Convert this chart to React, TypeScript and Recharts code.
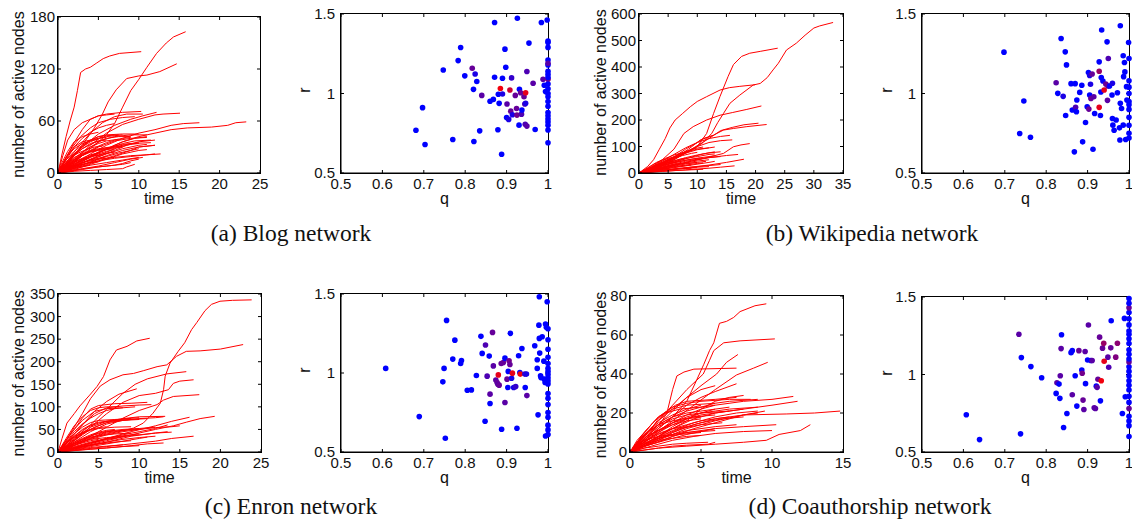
import React from 'react';
import { LineChart, Line, XAxis, YAxis, ScatterChart, Scatter } from 'recharts';

// ---------- Data ----------
// each curve: flat list [t0, n0, t1, n1, ...]
const blogCurves: number[][] = [
  [0,0, 0.5,22, 1,42, 1.5,60, 2,76, 2.4,95, 2.8,116, 3.4,120, 4,122, 4.8,127, 5.6,132, 6.4,135, 7.6,138, 10.3,140],
  [0,0, 2,12, 4,28, 6,44, 7,57, 8,76, 9,95, 10,108, 11,122, 12.2,138, 13.4,150, 14.3,157, 15.8,163],
  [0,0, 1.5,14, 3,32, 4.5,52, 5.5,68, 6.2,82, 7.2,96, 8.5,109, 10,112, 11,113, 12.6,117, 14.7,126],
  [0,0, 1,18, 2,35, 3,50, 4,62, 5,66, 6,68, 8,70, 10.3,71],
  [0,0, 1,12, 2.5,30, 4,46, 5.5,58, 7,65, 8.5,68, 10.5,68],
  [0,0, 1.5,15, 3,30, 5,45, 7,55, 9,62, 10.5,66, 12.2,70],
  [0,0, 2,15, 4,32, 6,46, 8,56, 10,62, 12,67, 13,68, 15.1,69],
  [0,0, 2,10, 4,22, 6,32, 8,40, 10,46, 12,50, 14,55, 15.5,57, 17.5,58],
  [0,0, 2,8, 4,18, 6,28, 8,36, 10,42, 12,46, 14,50, 16,52, 19,53, 21,55, 22,58, 23.3,59],
  [0,0, 0.8,15, 1.8,30, 2.8,42, 4,52, 5,58, 6.5,62, 8,64, 9.5,65],
  [0,0, 1,10, 2,22, 3.5,35, 5,42, 6,44, 8,45, 10,45],
  [0,0, 1,8, 2.5,18, 4,30, 5.5,38, 7,42, 9,44, 11,44],
  [0,0, 1.5,10, 3,20, 5,30, 7,37, 9,40, 11,41],
  [0,0, 1,6, 3,15, 5,24, 7,30, 9,34, 11.5,35],
  [0,0, 2,8, 4,15, 6,22, 8,28, 10,32, 11,33],
  [0,0, 1,5, 3,12, 5,16, 7,18, 9,20, 11,21, 12.7,22],
  [0,0, 1,4, 3,10, 5,14, 7,17, 9,19, 11,21, 12,22],
  [0,0, 2,5, 4,9, 6,12, 8,15, 10,18],
  [0,0, 2,3, 4,6, 6,8, 8,10, 9,12],
  [0,0, 2,2, 4,3, 6,4, 8,5, 8.5,7, 9.5,10],
  [0,0, 0.5,8, 1,18, 2,30, 3,36, 4,38, 5,40, 6,41],
  [0,0, 0.5,12, 1.2,25, 2,36, 3,42, 4,45, 5,47],
  [0,0, 1,15, 2,25, 3,32, 4,38, 5,42, 6,43, 7.5,44],
  [0,0, 1.5,18, 3,28, 4.5,35, 6,40, 7.5,42, 9,42],
  [0,0, 1,5, 2,10, 3,14, 4,18, 5,22, 6,25, 7,27],
  [0,0, 1,3, 2,8, 3,12, 4,15, 5,17, 6,19],
  [0,0, 0.8,10, 1.6,18, 2.5,23, 3.5,27, 4.5,30, 5.5,31],
  [0,0, 2,10, 4,20, 6,28, 8,34, 9.5,37, 11.5,38],
  [0,0, 1,10, 2,18, 3,22, 4,26, 5,28, 6.5,30, 8,33, 10,35],
  [0,0, 3,8, 5,14, 7,20, 9,26, 10,30, 12,32],
  [0,0, 1,4, 2,8, 3,10, 4,12, 5,13],
  [0,0, 0.5,3, 1.5,6, 3,8, 4,9],
  [0,0, 1,7, 2,14, 3,20, 4,24, 5,26, 6,27, 7,28],
  [0,0, 2,4, 4,10, 6,16, 8,22, 10,26, 11,27],
  [0,0, 1.5,5, 3,12, 5,19, 7,26, 8.5,32, 10,36, 12,38],
  [0,0, 0.6,20, 1.2,38, 2,50, 3,58, 4,62, 5,66, 6,67, 7,68],
  [0,0, 1,9, 2,16, 3,21, 4,25, 6,28, 8,30],
  [0,0, 0.7,6, 1.5,11, 2.5,15, 4,19, 5.5,21],
  [0,0, 1,6, 2,13, 3,20, 4,26, 5,31, 6,35, 7,38, 8,40, 9,41],
  [0,0, 1,9, 2,17, 3,24, 4,30, 5,34, 6,37, 7.5,39],
  [0,0, 0.5,5, 1.5,12, 2.5,18, 3.5,23, 4.5,26, 6,29, 8,31],
  [0,0, 1,3, 2,7, 3,11, 4,16, 5,20, 6,24, 7,28, 8,31, 9,33, 10,34],
  [0,0, 2,6, 4,13, 6,20, 8,26, 10,30, 12,32],
  [0,0, 1,2, 3,5, 5,8, 7,12, 9,16, 10.5,18],
  [0,0, 0.5,6, 1,11, 2,20, 3,28, 4,34, 5,37, 6,38],
  [0,0, 1,12, 2,22, 3,30, 4,36, 5,40, 6,42, 7,43, 8,44],
  [0,0, 1.5,4, 3,9, 4.5,14, 6,19, 7.5,23, 9,26, 10,28],
  [0,0, 0.8,4, 1.6,9, 2.4,14, 3.2,18, 4,21, 5,23],
  [0,0, 2,9, 4,19, 6,27, 7,32, 8,36, 9.5,40, 11,42],
  [0,0, 1,15, 2,30, 3,40, 4,47, 5,52, 6,55, 7,57],
  [0,0, 3,4, 5,7, 7,9, 8,11, 9,14, 10,16],
  [0,0, 0.6,10, 1.2,20, 2,28, 3,34, 4,37, 5,39],
  [0,0, 1,7, 2,12, 3,16, 4,19, 5,21, 6,23, 7,24],
];

const wikiCurves: number[][] = [
  [0,0, 3,25, 6,55, 9,85, 11,115, 12.5,150, 13.5,190, 14.5,225, 15.6,263, 17.3,294, 19.6,332, 20.8,338, 22,360, 23,389, 23.9,414, 25.3,464, 27,490, 28.5,520, 30,547, 31,555, 33.3,568],
  [0,0, 3,22, 6,50, 8,75, 10,100, 11.6,149, 12.8,225, 13.9,289, 15.3,365, 16.2,409, 17.6,440, 19,452, 20.8,459, 23.8,471],
  [0,0, 1.5,25, 2.5,50, 3.5,90, 4.5,130, 5.3,170, 6.2,200, 7.5,225, 8.8,250, 10,270, 11.6,288, 13.9,313, 15.5,322, 17.3,327, 19.9,333],
  [0,0, 2,20, 4,50, 6,90, 7.7,149, 9.3,175, 11.6,200, 13.9,218, 16,228, 18.5,240, 21,253],
  [0,0, 3,25, 6,55, 8.5,90, 10.5,124, 12.8,143, 14.5,162, 16.2,168, 18.5,175, 21.9,183],
  [0,0, 3,20, 6,50, 9,90, 12,130, 14,160, 16,172, 18,182, 20.5,188],
  [0,0, 3,15, 6,30, 9,45, 12,60, 14.5,74, 16.2,99, 17.5,106, 19,111],
  [0,0, 4,10, 8,20, 12,30, 15,40, 18,52],
  [0,0, 4,6, 8,12, 12,18, 14,22, 16.4,27],
  [0,0, 2,20, 4,45, 6,70, 8,95, 10,115, 12,130, 14,138, 15.6,142],
  [0,0, 3,25, 6,55, 8,80, 10,100, 12,115, 14,122, 16,125],
  [0,0, 2,15, 4,35, 6,60, 8,90, 10,115, 11,130, 12.5,140],
  [0,0, 2,20, 4,40, 6,60, 8,75, 10,88, 13,98],
  [0,0, 1.5,20, 3,40, 4.5,55, 6,68, 8,80, 10,90, 12,95],
  [0,0, 2,15, 4,30, 6,45, 8,58, 10,68, 12,76, 14,80],
  [0,0, 2,12, 4,25, 6,38, 8,48, 10,56, 13,65],
  [0,0, 2,10, 4,20, 6,30, 8,38, 10,45, 12,50],
  [0,0, 2,8, 4,16, 6,24, 8,30, 10,36, 11,38],
  [0,0, 3,8, 6,15, 9,22, 12,28, 14,32],
  [0,0, 2,5, 4,10, 6,14, 8,18, 10,20],
  [0,0, 3,5, 6,9, 9,12, 11,14],
  [0,0, 1,12, 2,25, 3,38, 4,48, 5,55, 6,60, 7,62],
  [0,0, 1,8, 2,18, 3,28, 4,35, 5,40, 6,42],
  [0,0, 2,14, 4,28, 6,42, 8,55, 10,62, 12,70, 13,72],
  [0,0, 2,18, 4,38, 6,58, 8,80, 9.5,92, 11,98],
  [0,0, 2,6, 4,14, 6,22, 8,28, 9,30],
  [0,0, 1,3, 3,8, 5,12, 7,16, 9,18],
  [0,0, 3,12, 6,28, 9,45, 12,58, 15,66, 17,70],
  [0,0, 1,6, 2,12, 4,22, 6,30, 8,36, 10,40],
  [0,0, 1.5,10, 3,22, 5,34, 7,44, 9,52, 10.5,56],
  [0,0, 1,8, 2,16, 3,24, 4,32, 5,40, 6,46, 7,52, 8,56],
  [0,0, 2,10, 4,22, 6,34, 8,44, 10,52, 12,58, 14,62],
  [0,0, 1,5, 2,10, 3,16, 4,22, 5,28, 6,33, 7,36],
  [0,0, 2,20, 4,42, 6,62, 7,72, 8,80, 9,86],
  [0,0, 2,4, 4,9, 6,14, 8,18, 10,22, 12,24],
  [0,0, 1.5,15, 3,30, 4.5,44, 6,56, 7.5,66, 9,74, 10,78],
  [0,0, 3,20, 6,40, 9,60, 11,72, 13,80],
  [0,0, 1,10, 2,20, 3,30, 4,38, 5,45, 6,50],
  [0,0, 2,8, 4,18, 6,26, 8,34, 10,40, 11.5,44],
  [0,0, 3,10, 6,20, 9,30, 12,40, 13,44],
  [0,0, 1,4, 2,8, 3,12, 4,15, 5,18],
];

const enronCurves: number[][] = [
  [0,0, 2,15, 4,30, 6,40, 8,47, 9.3,53, 10.5,64, 11.7,86, 12.6,108, 13,138, 13.2,168, 13.8,197, 14.8,223, 15.6,242, 16.45,271, 17.1,287, 18.1,313, 18.9,327, 19.95,334, 21.5,336, 23.85,337],
  [0,0, 1,25, 2,55, 3,85, 4,118, 5.2,146, 6.4,160, 8,171, 9.3,174, 10.5,180, 12.2,189, 13.4,193, 14.6,212, 15.8,223, 17.5,224, 20,228, 22.8,238],
  [0,0, 0.5,30, 1.1,64, 2,85, 2.7,102, 3.9,126, 4.8,145, 5.6,167, 6.4,204, 7.2,226, 8.5,234, 9.7,246, 11.3,252],
  [0,0, 2,30, 4,60, 6,95, 8,130, 9.5,150, 11,162, 13.4,173, 15.8,178],
  [0,0, 2,25, 4,55, 6,85, 8,110, 10,125, 12,130, 13.6,138, 14.2,152, 15,157, 16.7,160],
  [0,0, 2,15, 4,35, 6,55, 8,75, 10,92, 12.2,105, 13,115, 14.2,123, 17.4,127],
  [0,0, 1.5,30, 3,60, 4.5,90, 6,112, 7.5,128, 9.7,140],
  [0,0, 1,25, 2,50, 3,75, 4,95, 5,103, 7,107, 9,108, 11,110],
  [0,0, 1.5,30, 3,60, 4.5,85, 6,98, 8,102, 10,104, 11.5,105],
  [0,0, 1,15, 2.5,35, 4,55, 6,68, 8,74, 10,78, 13.2,79],
  [0,0, 3,12, 6,25, 9,38, 12,50, 14.2,58, 15.8,66, 17.5,74, 19.3,79],
  [0,0, 3,15, 6,30, 9,45, 12,58, 14,68, 16.2,77],
  [0,0, 3,6, 6,12, 9,18, 12,24, 14,30, 16.7,35],
  [0,0, 2,8, 4,15, 6,22, 8,28, 10,32, 12,35],
  [0,0, 2,10, 4,20, 6,30, 8,38, 10,45, 12,52, 13.5,60],
  [0,0, 1,12, 2,25, 3,38, 4,50, 5,58, 6,65, 8,70, 10,72],
  [0,0, 1,20, 2,40, 3,55, 4,65, 5,70, 7,72, 9,74],
  [0,0, 1.5,15, 3,28, 4.5,38, 6,45, 8,48, 10,50],
  [0,0, 2,12, 4,22, 6,30, 8,36, 10,40],
  [0,0, 1,5, 3,12, 5,18, 7,22, 9,25],
  [0,0, 2,5, 4,10, 6,13, 8,16],
  [0,0, 1,10, 2,18, 3,24, 4,28, 6,32, 8,34],
  [0,0, 2,18, 4,32, 6,42, 8,48, 10,52, 12,55],
  [0,0, 1,8, 2,15, 3,20, 4,25, 5,28],
  [0,0, 3,10, 6,22, 9,35, 12,42, 13.5,45],
  [0,0, 2,22, 4,45, 6,62, 8,70, 10,74, 12,76, 13,78],
  [0,0, 1,30, 2,58, 3,78, 4,92, 5,98, 6,100, 7.5,100],
  [0,0, 1.5,40, 3,70, 4.5,90, 6,96, 8,98, 9.5,100],
  [0,0, 1,18, 2,32, 3,42, 4,48, 5,52, 7,55, 9,56],
  [0,0, 2,6, 4,12, 6,18, 8,24, 10,30, 11,33],
  [0,0, 1,8, 2,18, 3,28, 4,36, 5,42, 6,46, 8,50, 10,52],
  [0,0, 1,12, 2,22, 3,30, 4,38, 5,44, 6,48, 7,50],
  [0,0, 2,8, 4,18, 6,28, 8,34, 10,38, 12,42, 14,44],
  [0,0, 1,5, 2,10, 3,15, 4,20, 5,24, 6,28, 7,30],
  [0,0, 0.5,10, 1,20, 2,35, 3,48, 4,58, 5,64, 6,68, 8,70],
  [0,0, 1,18, 2,35, 3,50, 4,60, 5,66, 7,70, 9,72, 11,74],
  [0,0, 3,5, 6,9, 9,14, 11,18, 13,20],
  [0,0, 1,10, 2,20, 3,28, 4,33, 5,36, 7,40, 9,42],
  [0,0, 1.5,20, 3,40, 4.5,55, 6,65, 7,70, 8.5,74, 10,76],
  [0,0, 1,4, 2,8, 3,12, 4,15, 5,18, 6,20],
  [0,0, 2,15, 4,28, 6,38, 8,45, 10,50, 12,54, 14,56, 15,58],
  [0,0, 0.8,15, 1.6,28, 2.4,38, 3.2,45, 4,50, 5,54, 6,56],
  [0,0, 2,3, 4,6, 6,9, 8,12, 10,14],
  [0,0, 1,22, 2,45, 3,62, 4,75, 5,85, 6,92, 7,96, 8,98],
  [0,0, 1,6, 2,14, 3,22, 4,30, 5,38, 6,44, 7,48],
];

const coauthCurves: number[][] = [
  [0,0, 1,6, 2,12, 3,18, 4,26, 4.7,37, 5.2,45, 5.6,52, 5.9,56, 6.1,61, 6.3,66, 6.8,67, 7.3,69, 7.75,72, 8.8,75, 9.6,76],
  [0,0, 1,8, 2,16, 3,24, 4,32, 5.16,40, 5.6,47, 5.9,52, 6.6,56, 7.75,57, 10.2,58],
  [0,0, 1,7, 2,14, 3,21, 4,28, 5,34, 6.1,40, 6.8,46, 7.6,50],
  [0,0, 1.5,8, 3,16, 4.5,24, 6,32, 7.5,39.5, 8.7,43, 9.7,46],
  [0,0, 0.5,3, 1,7, 1.5,10, 2,13, 2.6,20, 3,32, 3.3,39, 3.8,41, 4.5,42.5, 7.5,43],
  [0,0, 1,6, 2,12, 3,18, 4,24, 5,28, 6,31, 7.5,35],
  [0,0, 1,5, 2,10, 3,15, 4,19, 5,22, 6,24, 8,26, 10,27, 11.5,28.5],
  [0,0, 1.5,6, 3,12, 4.5,17, 6,20, 8,22, 10,24, 11.8,26],
  [0,0, 1.5,4, 3,8, 4.5,12, 6,15, 7,17, 8,19, 11,19.5, 13,20, 14.8,21],
  [0,0, 2,2, 4,3, 6,4, 8,5, 9.6,6, 10.5,9, 12,11, 12.7,14],
  [0,0, 1,3, 2,5, 3,7, 4,9, 5,10.5, 6,12, 8,13, 10.3,14],
  [0,0, 1.5,3, 3,6, 4.5,8, 6,9.5, 8,10.5, 10,11],
  [0,0, 1,8, 2,14, 3,18, 4,21, 5,23, 6,25, 7,26, 9,27],
  [0,0, 1,10, 2,18, 3,23, 4,25, 5,26, 7,27, 8.5,27],
  [0,0, 0.5,6, 1,10, 1.5,14, 2,18, 3,22, 4,24, 6,25],
  [0,0, 1,5, 2,9, 3,12, 4,14, 5,16, 6,17, 7,18],
  [0,0, 1,4, 2,7, 3,9, 4,11, 5,12, 6,13, 7.5,14],
  [0,0, 0.5,2, 1,4, 2,6, 3,7, 4,8, 5,8.5],
  [0,0, 1,2, 2,3, 3,4, 4,4.5, 5.5,5],
  [0,0, 0.3,3, 0.8,7, 1.5,12, 2,17, 2.5,20, 3.5,22, 5,23, 6,24],
  [0,0, 1,7, 2,13, 3,17, 4,19, 5,20, 7,21],
  [0,0, 1.5,5, 3,10, 4.5,14, 6,17, 8,19, 9,20],
  [0,0, 0.7,5, 1.4,9, 2.2,12, 3,15, 4,17, 5,18],
  [0,0, 1,3, 2,6, 3,10, 4,13, 5,15, 6.5,17, 8,18],
  [0,0, 2,8, 4,16, 5,22, 6,26, 7,28, 8,29],
  [0,0, 1,9, 2,16, 3,22, 4,28, 5,32, 6,34],
  [0,0, 0.5,4, 1,6, 2,8, 3,9, 4,10, 6,11],
  [0,0, 1,1, 2,2, 3,3, 4,3.5, 5.5,4, 6,5],
  [0,0, 0.8,8, 1.6,15, 2.4,20, 3.2,24, 4,26, 6,27, 7.5,28],
  [0,0, 2,6, 4,12, 6,16, 8,19, 9.5,21],
  [0,0, 1,4, 2,8, 3,13, 4,17, 5,20, 6,22, 7,23],
  [0,0, 0.6,5, 1.2,10, 2,14, 3,16, 4.5,18, 6,19],
  [0,0, 1.2,4, 2.5,9, 3.5,12, 5,14, 6.5,15],
  [0,0, 0.5,3, 1,6, 1.5,9, 2,11, 3,14, 4,16, 5,17],
  [0,0, 0.5,5, 1,9, 2,14, 3,18, 4,20, 5,21, 6,22],
  [0,0, 1,5, 2,10, 3,14, 4,17, 5,19, 6,20, 7,21, 8,22],
  [0,0, 0.4,2, 1,5, 1.6,8, 2.2,10, 3,12, 4,13],
  [0,0, 1,3, 2,5, 3,8, 4,10, 5,11, 6,12],
  [0,0, 0.5,4, 1,8, 1.5,12, 2,15, 3,19, 4,22, 5,24],
  [0,0, 1,6, 2,11, 3,15, 4,18, 5,20, 6,21, 7,22, 9,23],
  [0,0, 1.5,6, 3,11, 4.5,15, 6,18, 7.5,20, 9,21],
  [0,0, 0.3,2, 0.8,4, 1.5,6, 2.5,8, 3.5,9, 5,10],
];

// scatter points: [q, r, redness]
const blogQR: number[][] = [
  [0.681,0.769,0],[0.697,0.911,0],[0.703,0.679,0],[0.747,1.148,0],[0.770,0.711,0],[0.783,1.207,0],[0.789,1.289,0],[0.799,1.111,0],
  [0.817,1.159,0.4],[0.820,1.026,0],[0.821,0.698,0],[0.824,1.123,0.1],[0.828,1.075,0],[0.835,0.765,0],[0.840,0.988,0.35],[0.860,0.951,0],
  [0.868,0.963,0],[0.871,1.447,0],[0.871,1.102,0],[0.879,0.772,0],[0.880,0.995,0],[0.882,0.938,0],[0.885,1.031,0.95],[0.890,0.997,0.1],
  [0.890,1.096,0],[0.888,0.618,0],[0.896,1.279,0],[0.898,1.165,0],[0.900,0.849,0],[0.901,0.934,0.35],[0.905,0.837,0.1],[0.908,1.022,0.8],
  [0.910,0.889,0.4],[0.912,1.098,0.2],[0.914,0.866,0.1],[0.921,0.988,0.4],[0.924,0.906,0.4],[0.925,0.864,0.45],[0.926,1.473,0],[0.931,1.026,0],
  [0.930,0.801,0],[0.934,1.005,0.4],[0.936,0.870,0.3],[0.937,0.896,0],[0.942,0.980,0.4],[0.944,0.934,0.3],[0.945,0.807,0.3],[0.946,1.005,0.9],
  [0.946,0.938,0.1],[0.949,0.795,0.35],[0.949,1.138,0.3],[0.954,1.317,0],[0.964,1.064,0.35],[0.969,0.774,0],[0.984,1.447,0],[0.988,1.089,0.35],
  [0.991,1.052,0],[0.994,1.012,0],[0.998,1.462,0],
  [1,1.089,0.55],[1,0.69,0],[1,0.77,0],[1,0.80,0],[1,0.82,0],[1,0.84,0],[1,0.86,0],[1,0.88,0],[1,0.92,0],[1,0.95,0],[1,0.98,0],
  [1,1.0,0],[1,1.03,0],[1,1.06,0],[1,1.1,0],[1,1.14,0],[1,1.18,0],[1,1.21,0],[1,1.29,0],[1,1.32,0],[1,1.33,0],[1,1.19,0.35],[1,1.12,0],
];

const wikiQR: number[][] = [
  [0.698,1.26,0],[0.736,0.748,0],[0.746,0.953,0],[0.762,0.725,0],[0.824,1.068,0.35],[0.828,1.001,0],[0.836,1.346,0],[0.841,0.982,0.1],
  [0.846,1.262,0],[0.847,0.862,0],[0.849,1.18,0],[0.860,1.062,0],[0.863,0.896,0],[0.868,0.633,0],[0.870,1.062,0],[0.871,0.913,0.3],
  [0.873,0.885,0],[0.874,0.959,0],[0.881,1.007,0],[0.886,1.052,0],[0.888,0.696,0],[0.895,0.818,0],[0.899,0.917,0],[0.902,1.132,0],
  [0.903,0.902,0.4],[0.905,1.113,0.1],[0.905,0.991,0],[0.907,1.058,0.1],[0.908,0.969,0.4],[0.911,1.123,0.4],[0.913,0.649,0],[0.915,0.980,0.35],
  [0.917,0.874,0],[0.928,1.199,0],[0.928,1.14,0.6],[0.928,0.913,0.9],[0.931,0.862,0],[0.932,1.009,0],[0.933,1.1,0],[0.934,1.399,0],
  [0.937,1.079,0],[0.940,1.022,0.9],[0.944,1.06,0.4],[0.947,1.325,0],[0.948,0.957,0.35],[0.949,1.047,0.45],[0.950,1.22,0.3],[0.953,1.047,0],
  [0.959,0.991,0],[0.960,1.064,0.1],[0.960,0.843,0],[0.961,0.801,0],[0.964,0.769,0],[0.969,0.833,0],[0.972,1.005,0],[0.979,1.426,0],
  [0.977,0.784,0],[0.978,0.708,0],[0.979,0.938,0],[0.982,0.906,0],[0.986,1.237,0],[0.986,0.801,0],[0.987,1.106,0],[0.989,1.195,0],
  [0.990,1.136,0],[0.992,0.711,0],[0.994,1.043,0],[0.995,0.959,0],[0.999,1.321,0],
  [1,0.72,0],[1,0.75,0],[1,0.80,0],[1,0.85,0],[1,0.90,0],[1,0.95,0],[1,1.0,0],[1,1.04,0],[1,1.08,0],[1,1.22,0],[1,0.93,0],
];

const enronQR: number[][] = [
  [0.608,1.029,0],[0.689,0.724,0],[0.746,0.944,0],[0.749,1.029,0],[0.752,0.587,0],[0.755,1.333,0],[0.770,1.088,0],[0.775,1.208,0],
  [0.789,1.060,0],[0.791,1.079,0],[0.805,0.891,0],[0.815,0.893,0],[0.827,0.984,0],[0.838,1.232,0],[0.841,1.124,0],[0.848,0.695,0],
  [0.849,1.177,0.3],[0.853,0.980,0.3],[0.858,1.107,0],[0.860,0.866,0.35],[0.860,0.807,0],[0.866,1.257,0.4],[0.868,1.045,0.35],[0.874,0.955,0.35],
  [0.877,0.940,0.4],[0.879,0.929,0.35],[0.880,0.988,0.9],[0.882,0.923,0.4],[0.887,1.060,0.4],[0.888,0.644,0],[0.892,1.066,0.4],[0.896,1.094,0],
  [0.896,0.813,0.35],[0.901,0.961,0.4],[0.903,0.908,0],[0.904,1.010,0],[0.906,1.077,0.45],[0.908,1.054,0.4],[0.909,1.251,0],[0.912,0.967,0.1],
  [0.914,0.999,0.9],[0.917,0.908,0.1],[0.922,0.914,0.2],[0.925,0.650,0],[0.929,1.109,0],[0.932,1.003,0],[0.933,0.993,0.95],[0.937,1.155,0],
  [0.944,0.993,0.2],[0.945,0.908,0],[0.948,0.993,0.1],[0.949,0.857,0.35],[0.968,1.172,0],[0.974,1.084,0],[0.974,1.029,0],[0.976,0.735,0],
  [0.978,1.303,0],[0.979,1.483,0],[0.979,1.219,0],[0.980,1.126,0],[0.982,0.982,0],[0.983,0.971,0],[0.986,1.229,0],[0.990,1.075,0],
  [0.991,0.961,0],[0.993,0.940,0],[0.994,0.601,0],[0.994,1.310,0],[0.996,1.289,0],[0.998,1.451,0],
  [1,0.61,0],[1,0.64,0],[1,0.67,0],[1,0.72,0],[1,0.75,0],[1,0.80,0],[1,0.84,0],[1,0.87,0],[1,0.93,0],[1,0.95,0],
  [1,0.97,0],[1,0.99,0],[1,1.01,0],[1,1.03,0],[1,1.06,0],[1,1.10,0],[1,1.15,0],[1,1.21,0],[1,1.28,0],
];

const coauthQR: number[][] = [
  [0.607,0.740,0],[0.639,0.580,0],[0.734,1.260,0.35],[0.738,0.617,0],[0.740,1.109,0],[0.763,1.051,0],[0.789,0.979,0],[0.824,0.878,0],
  [0.826,0.947,0.35],[0.831,0.938,0],[0.833,0.846,0],[0.834,0.992,0.35],[0.836,1.167,0.35],[0.837,1.256,0],[0.842,0.658,0],[0.850,0.748,0],
  [0.860,1.141,0],[0.863,1.154,0],[0.863,0.869,0.35],[0.870,0.992,0],[0.874,0.796,0],[0.879,1.154,0.4],[0.886,1.029,0],[0.887,1.008,0.45],
  [0.889,0.835,0.4],[0.891,0.774,0.35],[0.894,1.148,0.35],[0.895,0.941,0],[0.900,1.094,0],[0.902,1.319,0.35],[0.908,1.090,0],[0.911,1.090,0.35],
  [0.916,0.785,0.35],[0.919,0.781,0.35],[0.921,0.925,0],[0.923,0.917,0.35],[0.925,0.969,0.4],[0.929,1.241,0.4],[0.931,0.830,0],[0.933,0.960,0.95],
  [0.936,1.170,0.4],[0.939,1.202,0.6],[0.940,1.085,0.9],[0.949,1.112,0.35],[0.951,1.047,0.3],[0.956,1.172,0.4],[0.957,1.347,0],[0.968,1.112,0.5],
  [0.972,1.202,0.55],[0.984,0.748,0],[0.989,1.362,0],[0.991,0.856,0],
  [1,0.60,0],[1,0.67,0],[1,0.70,0],[1,0.73,0],[1,0.78,0.4],[1,0.82,0],[1,0.86,0],[1,0.90,0],[1,0.93,0],[1,0.96,0],
  [1,0.99,0],[1,1.02,0],[1,1.05,0],[1,1.08,0.4],[1,1.10,0],[1,1.13,0],[1,1.16,0],[1,1.20,0],[1,1.23,0],[1,1.26,0],
  [1,1.28,0],[1,1.32,0],[1,1.36,0],[1,1.40,0],[1,1.43,0.4],[1,1.46,0],[1,1.49,0],
];

// ticks
const blogTimeTicks = [0, 5, 10, 15, 20, 25];
const blogNodeTicks = [0, 60, 120, 180];
const wikiTimeTicks = [0, 5, 10, 15, 20, 25, 30, 35];
const wikiNodeTicks = [0, 100, 200, 300, 400, 500, 600];
const enronTimeTicks = [0, 5, 10, 15, 20, 25];
const enronNodeTicks = [0, 50, 100, 150, 200, 250, 300, 350];
const coauthTimeTicks = [0, 5, 10, 15];
const coauthNodeTicks = [0, 20, 40, 60, 80];
const qTicks = [0.5, 0.6, 0.7, 0.8, 0.9, 1];
const rTicks = [0.5, 1, 1.5];

// ---------- Layout / style ----------
const ML = 44, MT = 10, MR = 14, XH = 26;
const AX_FONT = '"Liberation Sans", Arial, Helvetica, sans-serif';
const SERIF = '"Liberation Serif", "Times New Roman", serif';
const RED = '#ff0000';
const K = '#000000';
const TICK = 3;

type Rect = [number, number, number, number];
type Pt = { x: number; y: number };

const toPts = (f: number[]) => {
  const o: Pt[] = [];
  for (let i = 0; i < f.length; i += 2) o.push({ x: f[i], y: f[i + 1] });
  return o;
};
const mix = (w: number) => `rgb(${Math.round(255 * w)},0,${Math.round(255 * (1 - w))})`;

function BLabel(p: any) {
  const { x, y, payload } = p;
  return (
    <text x={x} y={y + TICK + 15.5} textAnchor="middle" fontSize={15} fontFamily={AX_FONT} fill="#111">
      {String(payload.value)}
    </text>
  );
}
function LLabel(p: any) {
  const { x, y, payload, gap } = p;
  return (
    <text x={x - TICK - gap} y={y + 5.3} textAnchor="end" fontSize={15} fontFamily={AX_FONT} fill="#111">
      {String(payload.value)}
    </text>
  );
}

function frameAxes(xd: number[], yd: number[], xt: number[], yt: number[], gap: number) {
  const axisLine = { stroke: K, strokeWidth: 1 };
  const tickLine = { stroke: K, strokeWidth: 1 };
  return [
    <XAxis key="xb" xAxisId="b" type="number" dataKey="x" domain={xd} ticks={xt} interval={0} height={XH}
      axisLine={axisLine} tickLine={tickLine} tickSize={-TICK} tickMargin={0}
      tick={(p: any) => <BLabel {...p} />} />,
    <YAxis key="yl" yAxisId="l" type="number" dataKey="y" domain={yd} ticks={yt} interval={0} width={ML}
      axisLine={axisLine} tickLine={tickLine} tickSize={-TICK} tickMargin={0}
      tick={(p: any) => <LLabel {...p} gap={gap} />} />,
  ];
}

// short inward ticks (data space) on the top and right edges of the box
function edgeTicks(r: Rect, xd: number[], yd: number[], xt: number[], yt: number[]): Pt[][] {
  const dx = (TICK / (r[2] - r[0])) * (xd[1] - xd[0]);
  const dy = (TICK / (r[3] - r[1])) * (yd[1] - yd[0]);
  const paths: Pt[][] = [];
  xt.forEach((t) => paths.push([{ x: t, y: yd[1] }, { x: t, y: yd[1] - dy }]));
  yt.forEach((t) => paths.push([{ x: xd[1], y: t }, { x: xd[1] - dx, y: t }]));
  return paths;
}

function dims(r: Rect) {
  return {
    style: { position: 'absolute', left: r[0] - ML, top: r[1] - MT } as React.CSSProperties,
    width: r[2] - r[0] + ML + MR,
    height: r[3] - r[1] + MT + XH,
  };
}
const MARGIN = { top: MT, right: MR, left: 0, bottom: 0 };

// full plot-box outline drawn on top of the chart
function BoxFrame({ r }: { r: Rect }) {
  return (
    <div style={{
      position: 'absolute', left: r[0] - 1, top: r[1] - 1, width: r[2] - r[0] + 2, height: r[3] - r[1] + 2,
      border: '1px solid #000', boxSizing: 'border-box', pointerEvents: 'none', zIndex: 5,
    }} />
  );
}

function CurvesPanel(props: { rect: Rect; curves: number[][]; xd: number[]; yd: number[]; xt: number[]; yt: number[] }) {
  const d = dims(props.rect);
  const ticks = edgeTicks(props.rect, props.xd, props.yd, props.xt, props.yt);
  return (
    <>
      <div style={d.style}>
        <LineChart width={d.width} height={d.height} margin={MARGIN}>
          {frameAxes(props.xd, props.yd, props.xt, props.yt, 3)}
          {props.curves.map((c, i) => (
            <Line key={i} data={toPts(c)} dataKey="y" xAxisId="b" yAxisId="l" type="linear" stroke={RED}
              strokeWidth={1} dot={false} activeDot={false} isAnimationActive={false} />
          ))}
          {ticks.map((b, i) => (
            <Line key={'tk' + i} data={b} dataKey="y" xAxisId="b" yAxisId="l" type="linear" stroke={K}
              strokeWidth={1} dot={false} activeDot={false} isAnimationActive={false} />
          ))}
        </LineChart>
      </div>
      <BoxFrame r={props.rect} />
    </>
  );
}

function ScatterPanel(props: { rect: Rect; pts: number[][] }) {
  const d = dims(props.rect);
  const data = props.pts.map((p) => ({ x: p[0], y: p[1], c: mix(p[2]) }));
  const ticks = edgeTicks(props.rect, [0.5, 1], [0.5, 1.5], qTicks, rTicks);
  return (
    <>
      <BoxFrame r={props.rect} />
      <div style={{ ...d.style, zIndex: 6 }}>
        <ScatterChart width={d.width} height={d.height} margin={MARGIN}>
          {frameAxes([0.5, 1], [0.5, 1.5], qTicks, rTicks, 6)}
          {ticks.map((b, i) => (
            <Scatter key={'tk' + i} data={b} xAxisId="b" yAxisId="l" isAnimationActive={false}
              line={{ stroke: K, strokeWidth: 1 }} lineType="joint" shape={() => <g />} />
          ))}
          <Scatter data={data} xAxisId="b" yAxisId="l" isAnimationActive={false}
            shape={(p: any) => <circle cx={p.cx} cy={p.cy} r={2.8} fill={p.payload.c} />} />
        </ScatterChart>
      </div>
    </>
  );
}

const T = (p: { x: number; y: number; children: React.ReactNode; size?: number; family?: string; rot?: boolean }) => (
  <text x={p.x} y={p.y} textAnchor="middle" fontSize={p.size || 16} fontFamily={p.family || AX_FONT} fill="#111"
    transform={p.rot ? `rotate(-90 ${p.x} ${p.y})` : undefined}>
    {p.children}
  </text>
);

export default function App() {
  return (
    <div style={{ position: 'absolute', left: 0, top: 0, width: 1132, height: 523, background: '#fff', overflow: 'hidden' }}>
      <CurvesPanel rect={[58, 17, 260, 173]} curves={blogCurves} xd={[0, 25]} yd={[0, 180]} xt={blogTimeTicks} yt={blogNodeTicks} />
      <ScatterPanel rect={[341, 14, 548, 173]} pts={blogQR} />
      <CurvesPanel rect={[639, 14, 843, 173]} curves={wikiCurves} xd={[0, 35]} yd={[0, 600]} xt={wikiTimeTicks} yt={wikiNodeTicks} />
      <ScatterPanel rect={[922, 14, 1129, 173]} pts={wikiQR} />
      <CurvesPanel rect={[58, 294, 261, 452]} curves={enronCurves} xd={[0, 25]} yd={[0, 350]} xt={enronTimeTicks} yt={enronNodeTicks} />
      <ScatterPanel rect={[341, 294, 548, 452]} pts={enronQR} />
      <CurvesPanel rect={[630, 296, 843, 452]} curves={coauthCurves} xd={[0, 15]} yd={[0, 80]} xt={coauthTimeTicks} yt={coauthNodeTicks} />
      <ScatterPanel rect={[922, 297, 1129, 452]} pts={coauthQR} />
      <svg width={1132} height={523} style={{ position: 'absolute', left: 0, top: 0, pointerEvents: 'none', zIndex: 7 }}>
        <T x={24} y={94.5} rot>number of active nodes</T>
        <T x={159} y={204}>time</T>
        <T x={310} y={90} rot>r</T>
        <T x={444.5} y={203.5}>q</T>
        <T x={605.5} y={92.5} rot>number of active nodes</T>
        <T x={741} y={204}>time</T>
        <T x={891.5} y={90} rot>r</T>
        <T x={1025.5} y={203.5}>q</T>
        <T x={24} y={373.3} rot>number of active nodes</T>
        <T x={159.5} y={482.7}>time</T>
        <T x={310} y={370} rot>r</T>
        <T x={444.5} y={483.3}>q</T>
        <T x={605.5} y={375} rot>number of active nodes</T>
        <T x={736.5} y={482.7}>time</T>
        <T x={891.5} y={373} rot>r</T>
        <T x={1025.5} y={483.3}>q</T>
        <T x={291} y={241} size={23.5} family={SERIF}>(a) Blog network</T>
        <T x={872} y={241} size={23.5} family={SERIF}>(b) Wikipedia network</T>
        <T x={291} y={514} size={23.5} family={SERIF}>(c) Enron network</T>
        <T x={870} y={514} size={23.5} family={SERIF}>(d) Coauthorship network</T>
      </svg>
    </div>
  );
}
